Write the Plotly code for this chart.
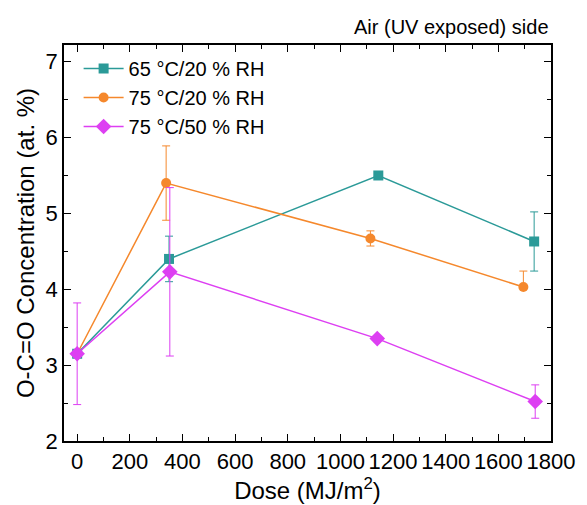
import plotly.graph_objects as go

# Data
dose_65_20 = [0, 349, 1144, 1736]
conc_65_20 = [3.15, 4.40, 5.50, 4.63]
err_65_20_plus = [0, 0.30, 0, 0.39]
err_65_20_minus = [0, 0.30, 0, 0.39]

dose_75_20 = [0, 338, 1114, 1695]
conc_75_20 = [3.15, 5.40, 4.67, 4.03]
err_75_20_plus = [0, 0.49, 0.10, 0.21]
err_75_20_minus = [0, 0.49, 0.10, 0.0]

dose_75_50 = [0, 352, 1140, 1740]
conc_75_50 = [3.15, 4.23, 3.35, 2.52]
err_75_50_plus = [0.67, 1.11, 0, 0.22]
err_75_50_minus = [0.67, 1.11, 0, 0.22]

names = ["65 °C/20 % RH", "75 °C/20 % RH", "75 °C/50 % RH"]
colors = ["#2b9a98", "#f5882c", "#dd3ff2"]
symbols = ["square", "circle", "diamond"]
xs = [dose_65_20, dose_75_20, dose_75_50]
ys = [conc_65_20, conc_75_20, conc_75_50]
eps = [err_65_20_plus, err_75_20_plus, err_75_50_plus]
ems = [err_65_20_minus, err_75_20_minus, err_75_50_minus]

fig = go.Figure()
for n, c, s, x, y, ep, em in zip(names, colors, symbols, xs, ys, eps, ems):
    fig.add_trace(go.Scatter(
        x=x, y=y, name=n, mode="lines+markers",
        line=dict(color=c, width=1.5),
        marker=dict(symbol=s, size=10 if s != "diamond" else 12, color=c),
        error_y=dict(type="data", symmetric=False, array=ep, arrayminus=em,
                     color=c, thickness=1, width=4),
    ))

axis_common = dict(
    showline=True, linecolor="black", linewidth=1.5, mirror="ticks",
    ticks="inside", ticklen=7, tickwidth=1.2, tickcolor="black",
    showgrid=False, zeroline=False,
    tickfont=dict(family="Liberation Sans, Arial", size=22, color="black"),
    minor=dict(ticks="inside", ticklen=4, tickwidth=1, tickcolor="black"),
)

fig.update_layout(
    width=587, height=505,
    margin=dict(l=64, r=27, t=45, b=62),
    paper_bgcolor="white", plot_bgcolor="white",
    font=dict(family="Liberation Sans, Arial", color="black"),
    xaxis=dict(range=[-50, 1800], tickvals=list(range(0, 1801, 200)),
               title=dict(text="Dose (MJ/m<sup>2</sup>)", font=dict(size=24), standoff=2),
               **axis_common),
    yaxis=dict(range=[2, 7.22], tickvals=[2, 3, 4, 5, 6, 7],
               title=dict(text="O-C=O Concentration (at. %)", font=dict(size=24), standoff=4),
               **axis_common),
    legend=dict(x=0.03, y=0.99, xanchor="left", yanchor="top",
                bgcolor="rgba(0,0,0,0)", font=dict(size=20, color="black"),
                itemwidth=40, tracegroupgap=0),
    showlegend=True,
    annotations=[dict(text="Air (UV exposed) side", xref="paper", yref="paper",
                      x=1.0, y=1.0, yshift=5, xanchor="right", yanchor="bottom",
                      showarrow=False, font=dict(size=20, color="black"))],
)

fig.write_html("out.html")
